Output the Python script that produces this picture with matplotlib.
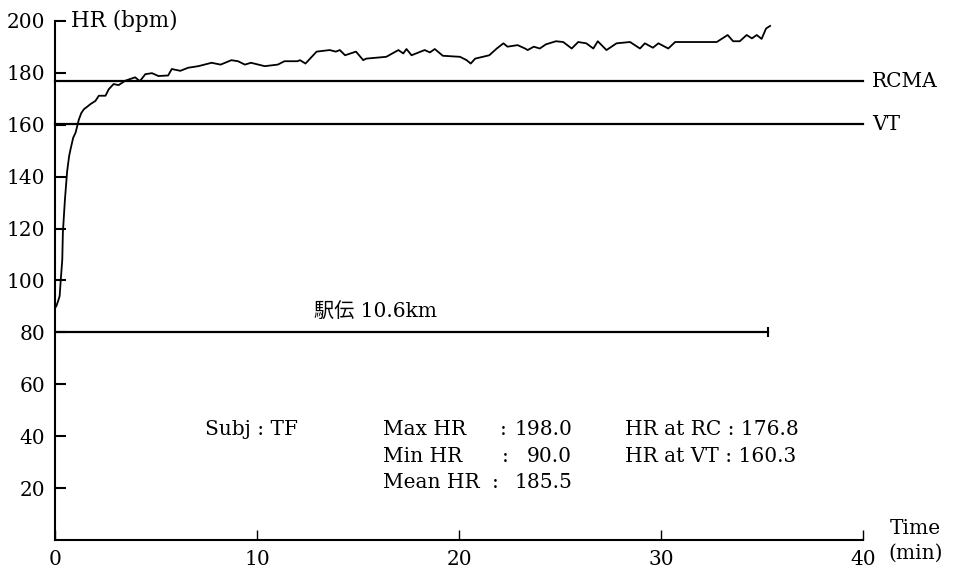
import matplotlib
matplotlib.use("Agg")
import matplotlib.pyplot as plt

# ---- data ----
time_min = [0.06, 0.15, 0.23, 0.28, 0.36, 0.39, 0.49, 0.6, 0.7, 0.77, 0.9, 1.02, 1.18, 1.3,
            1.43, 1.6, 1.76, 2.0, 2.17, 2.5, 2.66, 2.9, 3.15, 3.48, 3.97, 4.2, 4.47, 4.8,
            5.12, 5.6, 5.78, 6.2, 6.6, 7.1, 7.75, 8.2, 8.73, 9.06, 9.4, 9.7, 10.38, 11.03,
            11.36, 12.0, 12.13, 12.4, 12.95, 13.6, 13.9, 14.1, 14.36, 14.9, 15.26, 15.4,
            16.4, 17.0, 17.24, 17.4, 17.65, 18.3, 18.56, 18.8, 19.2, 20.05, 20.38, 20.58,
            20.8, 21.5, 21.87, 22.2, 22.4, 22.9, 23.27, 23.4, 23.7, 24.0, 24.3, 24.8, 25.16,
            25.58, 25.9, 26.3, 26.65, 26.87, 27.3, 27.8, 28.47, 28.96, 29.2, 29.6, 29.87,
            30.36, 30.7, 32.76, 33.3, 33.57, 33.9, 34.24, 34.5, 34.74, 34.98, 35.2, 35.4]
hr_bpm = [90, 92, 94, 99.7, 108, 118.5, 131, 142, 148, 150.6, 155, 157, 162, 164.5,
          166, 167, 168, 169.2, 171.2, 171.2, 173.7, 175.7, 175.3, 177, 178.3, 176.8, 179.5, 179.9,
          178.8, 179, 181.5, 180.8, 182, 182.6, 183.9, 183.2, 184.9, 184.5, 183.2, 183.9, 182.6, 183.2,
          184.5, 184.5, 184.9, 183.6, 188.2, 188.8, 188.2, 188.8, 186.8, 188.2, 184.9, 185.5,
          186.2, 188.8, 187.5, 189.2, 186.8, 188.8, 187.9, 189.2, 186.6, 186.2, 184.9, 183.6,
          185.5, 186.8, 189.4, 191.4, 190.1, 190.7, 189.4, 188.8, 190.1, 189.4, 191.0, 192.2, 191.9,
          189.4, 191.9, 191.4, 189.4, 192.2, 188.8, 191.4, 191.9, 189.4, 191.4, 189.7, 191.4,
          189.4, 191.9, 191.9, 194.6, 192.2, 192.2, 194.6, 193.3, 194.6, 193.1, 197.1, 198.1]

rcma_hr = 176.8
vt_hr = 160.3
race_level = 80
race_end = 35.3
race_label = "駅伝 10.6km"

y_ticks = [20, 40, 60, 80, 100, 120, 140, 160, 180, 200]
x_ticks = [0, 10, 20, 30, 40]

stats_labels = ["Max HR", "Min HR", "Mean HR"]
stats_values = ["198.0", "90.0", "185.5"]
thr_labels = ["HR at RC", "HR at VT"]
thr_values = ["176.8", "160.3"]
subject = "Subj : TF"

# ---- figure ----
FONT = ["DejaVu Serif", "Noto Sans CJK JP"]
plt.rcParams["font.family"] = FONT
FS = 14.5

fig = plt.figure(figsize=(9.62, 5.70), dpi=100)
ax = fig.add_axes([55 / 962, 1 - 540 / 570, 808 / 962, 519 / 570])
ax.set_xlim(0, 40)
ax.set_ylim(0, 200)

for s in ["top", "right"]:
    ax.spines[s].set_visible(False)
for s in ["left", "bottom"]:
    ax.spines[s].set_linewidth(1.5)

ax.plot(time_min, hr_bpm, color="black", lw=1.3)
ax.plot([0, 40], [rcma_hr, rcma_hr], color="black", lw=1.6, clip_on=False)
ax.plot([0, 40], [vt_hr, vt_hr], color="black", lw=1.6, clip_on=False)
ax.plot([0, race_end], [race_level, race_level], color="black", lw=1.6)
ax.plot([race_end], [race_level], marker="|", ms=7, mew=1.5, color="black")

ax.set_yticks(y_ticks)
ax.set_xticks(x_ticks)
ax.tick_params(axis="y", direction="in", length=8, width=1.5, pad=7, labelsize=FS)
ax.tick_params(axis="x", direction="in", length=7, width=1.0, pad=7, labelsize=FS)

ax.text(0.8, 200, "HR (bpm)", fontsize=FS + 1, ha="left", va="center")
ax.text(40.45, rcma_hr, "RCMA", fontsize=FS, ha="left", va="center", clip_on=False)
ax.text(40.45, vt_hr, "VT", fontsize=FS, ha="left", va="center", clip_on=False)
ax.text(42.6, 4.6, "Time", fontsize=FS, ha="center", va="center", clip_on=False)
ax.text(42.6, -5.2, "(min)", fontsize=FS, ha="center", va="center", clip_on=False)
ax.text(12.8, 88, race_label, fontsize=FS, ha="left", va="center")

row_y = [42.5, 32.3, 22.0]
colon_x = [22.2, 22.3, 21.8]
value_right = [25.6, 25.6, 25.6]
ax.text(7.43, row_y[0], subject, fontsize=FS, ha="left", va="center")
for lab, val, yv, cx, vr in zip(stats_labels, stats_values, row_y, colon_x, value_right):
    ax.text(16.24, yv, lab, fontsize=FS, ha="left", va="center")
    ax.text(cx, yv, ":", fontsize=FS, ha="center", va="center")
    ax.text(vr, yv, val, fontsize=FS, ha="right", va="center")
for lab, val, yv in zip(thr_labels, thr_values, row_y[:2]):
    ax.text(28.2, yv, lab + " : " + val, fontsize=FS, ha="left", va="center")

fig.savefig("out.png", dpi=100)
